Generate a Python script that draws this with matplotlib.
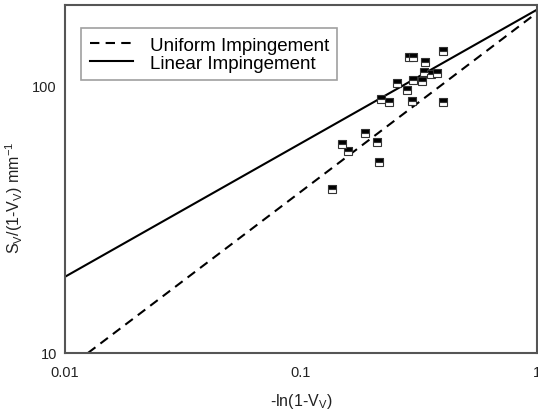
import matplotlib.pyplot as plt

plt.rcParams['font.family'] = ['Liberation Sans', 'DejaVu Sans']
plt.rcParams['mathtext.default'] = 'regular'

# measured points: -ln(1-Vv) vs Sv/(1-Vv)
x_meas = [0.400, 0.287, 0.298, 0.335, 0.332, 0.356, 0.377, 0.255, 0.298, 0.326,
          0.281, 0.218, 0.236, 0.295, 0.400, 0.187, 0.149, 0.158, 0.210, 0.214, 0.135]
y_meas = [135, 128, 128, 123, 113, 111, 112, 102.6, 105, 104,
          96.6, 89.4, 87.1, 87.9, 87.1, 66.7, 60.7, 57.1, 61.7, 51.9, 41.1]

# model lines (end points)
uniform_x = [0.0125, 1.0]
uniform_y = [10.0, 188.0]
linear_x = [0.01, 1.0]
linear_y = [19.3, 193.0]

grey = '#555555'

fig = plt.figure(figsize=(5.38, 4.14), dpi=100)
ax = fig.add_axes([0.121, 0.145, 0.877, 0.8405])

ax.plot(uniform_x, uniform_y, color='black', lw=1.5, ls=(0, (4.5, 3)),
        label='Uniform Impingement')
ax.plot(linear_x, linear_y, color='black', lw=1.5, label='Linear Impingement')
ax.plot(x_meas, y_meas, ls='none', marker='s', markersize=6,
        fillstyle='top', markerfacecolor='black', markerfacecoloralt='white',
        markeredgecolor='#333333', markeredgewidth=0.8)

ax.set_xscale('log')
ax.set_yscale('log')
ax.set_xlim(0.01, 1)
ax.set_ylim(10, 201)

ax.set_xticks([0.01, 0.1, 1])
ax.set_xticklabels(['0.01', '0.1', '1'])
ax.set_yticks([10, 100])
ax.set_yticklabels(['10', '100'])
ax.minorticks_off()
ax.tick_params(length=0, labelsize=10.5, labelcolor='#222222')
ax.tick_params(axis='x', pad=9)
ax.tick_params(axis='y', pad=6)

for s in ax.spines.values():
    s.set_color(grey)
    s.set_linewidth(1.5)

ax.set_xlabel('-ln(1-V$_V$)', fontsize=11.5, color='#222222', labelpad=8)
ax.set_ylabel('S$_V$/(1-V$_V$) mm$^{-1}$', fontsize=11.5, color='#222222')
ax.yaxis.set_label_coords(-0.085, 0.45)

leg = ax.legend(loc='upper left', bbox_to_anchor=(0.034, 0.934), fontsize=13.5,
                frameon=True, fancybox=False, handlelength=2.3,
                borderpad=0.45, borderaxespad=0, labelspacing=0.05,
                handletextpad=0.9)
leg.get_frame().set_edgecolor('#888888')
leg.get_frame().set_linewidth(1.2)

fig.savefig('out.png', dpi=100)
